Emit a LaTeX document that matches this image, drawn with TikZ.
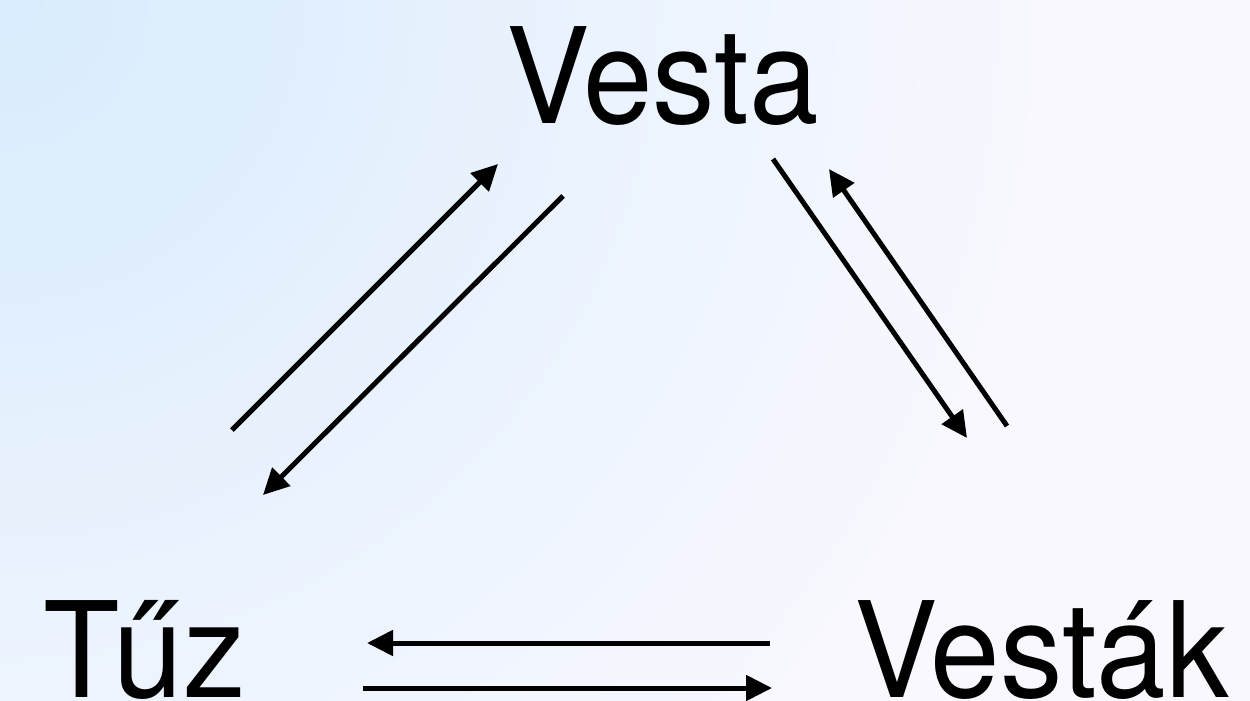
\documentclass[tikz,border=0pt]{standalone}
\usepackage{fontspec}
\setmainfont{TeX Gyre Heros}
\usetikzlibrary{arrows.meta}
\definecolor{bgblue}{RGB}{216,236,253}
\definecolor{bgwhite}{RGB}{248,248,254}
\begin{document}
\begin{tikzpicture}[x=1pt,y=-1pt,
  conn/.style={line width=5pt,-{Triangle[length=26pt,width=25pt]}},
  lbl/.style={font=\fontsize{133}{133}\selectfont, inner sep=0pt, anchor=base}]
\useasboundingbox (0,0) rectangle (1250,701);
\fill[bgwhite] (0,0) rectangle (1250,701);
\begin{scope}
  \clip (0,0) rectangle (1250,701);
  \shade[inner color=bgblue, outer color=bgwhite] (0,0) circle (1050);
\end{scope}
\node[lbl] (vesta) at (662.5,123) {\scalebox{0.94}[1]{Vesta}};
\node[lbl] (tuz) at (144.5,697) {\scalebox{0.94}[1]{Tűz}};
\node[lbl] (vestak) at (1041.5,697) {\scalebox{0.94}[1]{Vesták}};
\coordinate (a1s) at (232,430); \coordinate (a1e) at (498,164);
\coordinate (a2s) at (563,196); \coordinate (a2e) at (263,495);
\coordinate (a3s) at (773,159); \coordinate (a3e) at (967,438);
\coordinate (a4s) at (1007,426); \coordinate (a4e) at (829,169);
\coordinate (a5s) at (770,643); \coordinate (a5e) at (367,643);
\coordinate (a6s) at (363,688); \coordinate (a6e) at (772,688);
\draw[conn] (a1s) -- (a1e);
\draw[conn] (a2s) -- (a2e);
\draw[conn] (a3s) -- (a3e);
\draw[conn] (a4s) -- (a4e);
\draw[conn] (a5s) -- (a5e);
\draw[conn] (a6s) -- (a6e);
\end{tikzpicture}
\end{document}
